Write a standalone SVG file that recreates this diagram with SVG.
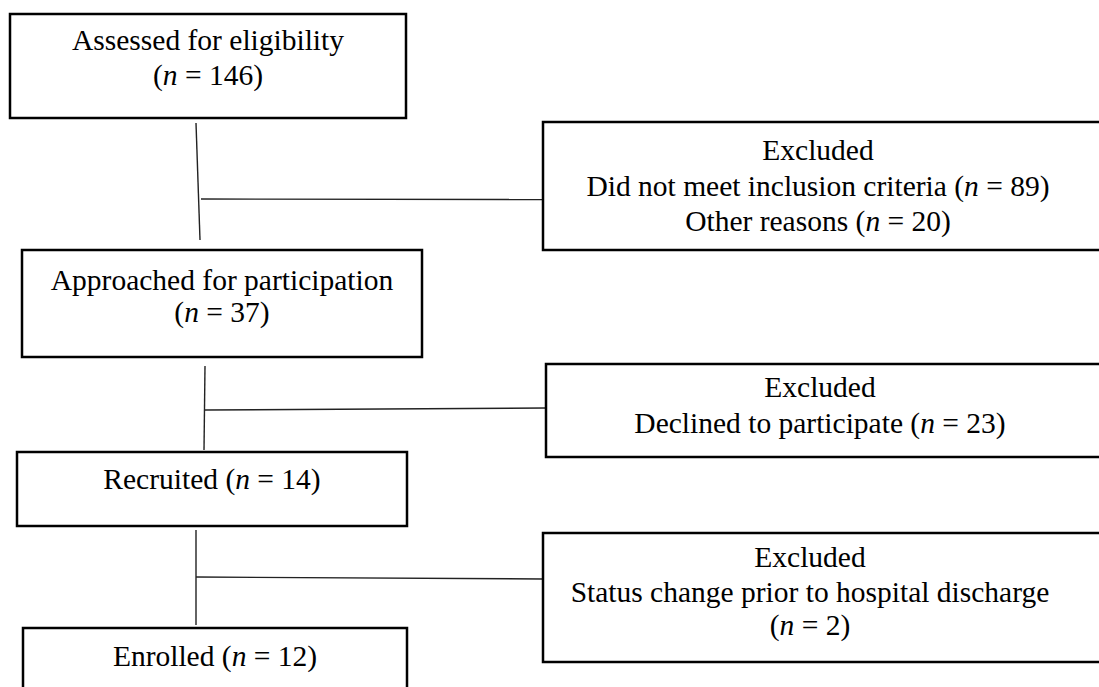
<svg xmlns="http://www.w3.org/2000/svg" width="1099" height="687" viewBox="0 0 1099 687">
<style>
.box{fill:#fff;stroke:#000;stroke-width:2.5}
.t{font-family:"Liberation Serif","Times New Roman",serif;font-size:29.5px;fill:#000;text-anchor:middle}
.i{font-style:italic}
.c{stroke:#222;stroke-width:1.4;fill:none}
</style>
<rect width="1099" height="687" fill="#fff"/>
<g id="connectors">
<line class="c" x1="196" y1="123" x2="200" y2="240"/>
<line class="c" x1="201" y1="199" x2="543" y2="199.5"/>
<line class="c" x1="205" y1="366" x2="204" y2="450"/>
<line class="c" x1="205" y1="410" x2="546" y2="408"/>
<line class="c" x1="196" y1="530" x2="196" y2="625"/>
<line class="c" x1="196" y1="577" x2="543" y2="579"/>
</g>
<g id="assessed">
<rect class="box" x="10" y="14" width="396" height="104"/>
<text class="t" x="208" y="50">Assessed for eligibility</text>
<text class="t" x="208" y="85">(<tspan class="i">n</tspan> = 146)</text>
</g>
<g id="excluded1">
<rect class="box" x="543" y="122" width="560" height="128"/>
<text class="t" x="818" y="160">Excluded</text>
<text class="t" x="818" y="196">Did not meet inclusion criteria (<tspan class="i">n</tspan> = 89)</text>
<text class="t" x="818" y="231">Other reasons (<tspan class="i">n</tspan> = 20)</text>
</g>
<g id="approached">
<rect class="box" x="22" y="250" width="400" height="107"/>
<text class="t" x="222" y="290">Approached for participation</text>
<text class="t" x="222" y="322">(<tspan class="i">n</tspan> = 37)</text>
</g>
<g id="excluded2">
<rect class="box" x="546" y="364" width="560" height="93"/>
<text class="t" x="820" y="397">Excluded</text>
<text class="t" x="820" y="433">Declined to participate (<tspan class="i">n</tspan> = 23)</text>
</g>
<g id="recruited">
<rect class="box" x="17" y="452" width="390" height="74"/>
<text class="t" x="212" y="489">Recruited (<tspan class="i">n</tspan> = 14)</text>
</g>
<g id="excluded3">
<rect class="box" x="543" y="533" width="560" height="129"/>
<text class="t" x="810" y="567">Excluded</text>
<text class="t" x="810" y="602">Status change prior to hospital discharge</text>
<text class="t" x="810" y="635">(<tspan class="i">n</tspan> = 2)</text>
</g>
<g id="enrolled">
<rect class="box" x="23" y="628" width="384" height="80"/>
<text class="t" x="215" y="666">Enrolled (<tspan class="i">n</tspan> = 12)</text>
</g>
</svg>
